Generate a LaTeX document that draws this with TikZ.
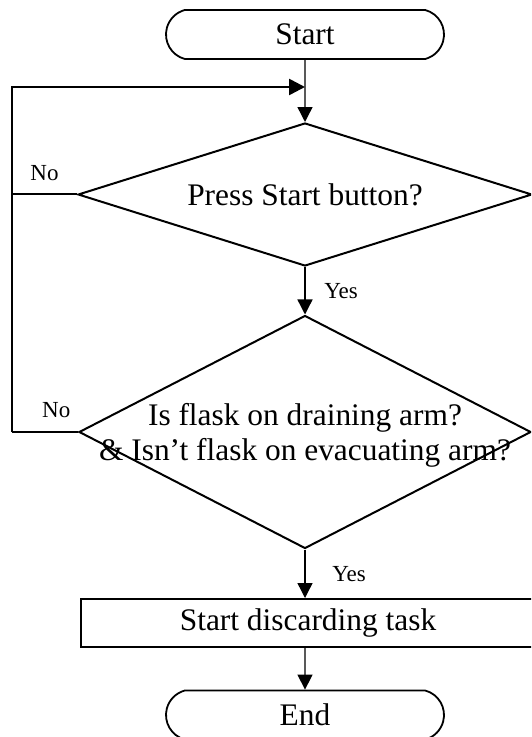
\documentclass[tikz,border=0pt]{standalone}
\usepackage{fontspec}
\setmainfont{Liberation Serif}
\usetikzlibrary{arrows.meta,shapes,positioning}

\tikzset{
    term/.style={draw, rounded rectangle, rounded rectangle arc length=150, line width=0.9pt, inner sep=0pt,
        minimum width=139pt, minimum height=24.5pt, font=\fontsize{15.7}{17}\selectfont},
    test/.style={draw, diamond, line width=1pt, inner sep=0pt},
    task/.style={draw, rectangle, line width=1pt, inner sep=0pt,
        minimum width=227pt, minimum height=24pt, font=\fontsize{15.7}{17}\selectfont},
    flow/.style={line width=0.7pt, -{Triangle[length=7.5pt,width=7.5pt]}},
    back/.style={line width=1.3pt},
    ans/.style={font=\fontsize{11.5}{13}\selectfont},
}

\begin{document}
\begin{tikzpicture}[x=0.5pt, y=-0.5pt]
        \useasboundingbox (0,0) rectangle (531,737);
        \clip (0,0) rectangle (531,737);

        \node[term] (start) at (305,34.5) {Start};
        \node[test, minimum width=227pt, minimum height=71.5pt,
            label={[font=\fontsize{15.7}{17}\selectfont]center:Press Start button?}]
            (press) at (305,194.5) {};
        \node[test, minimum width=226pt, minimum height=116.5pt,
            label={[font=\fontsize{15.7}{17.5}\selectfont, align=center, yshift=-1.5pt]center:Is flask on draining arm?\\\& Isn't flask on evacuating arm?}]
            (flask) at (305,432) {};
        \node[task] (discard) at (308,623) {Start discarding task};
        \node[term] (end) at (305,715) {End};

        \coordinate (merge) at (305,87);
        \coordinate (rail) at (12,0);

        \draw[flow] (start) -- (press);
        \draw[flow] (press) -- (flask) node[ans, right=6pt, midway] {Yes};
        \draw[flow] (flask.south) -- (flask.south |- discard.north) node[ans, right=10pt, midway] {Yes};
        \draw[flow] (discard.south -| end) -- (end);

        % both "No" branches go back up to the first test
        \draw[line width=1pt] (press.west) -- (press.west -| rail) node[ans, above=3pt, midway] {No};
        \draw[back] (flask.west) -- (flask.west -| rail) node[ans, above=3pt, pos=0.33] {No};
        \draw[back, -{Triangle[length=8pt,width=8pt]}] (flask.west -| rail) |- (merge);

    \end{tikzpicture}
\end{document}
